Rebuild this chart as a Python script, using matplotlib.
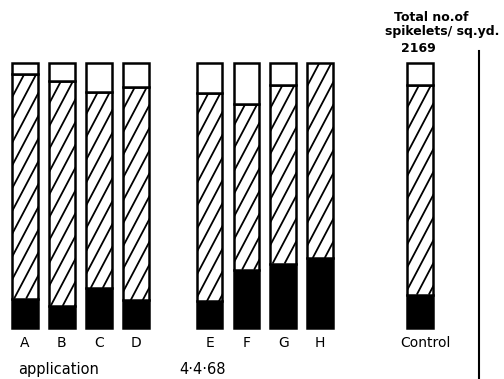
import numpy as np
import matplotlib
matplotlib.use("Agg")
import matplotlib.pyplot as plt
from matplotlib.patches import Rectangle
from matplotlib.collections import LineCollection

# bars as percentage of total spikelets (bottom black, middle hatched, top white)
labels = ["A", "B", "C", "D", "E", "F", "G", "H", "Control"]
black_pct = [11.1, 8.3, 15.1, 10.4, 10.1, 22.0, 24.3, 26.4, 12.6]
white_pct = [4.3, 6.8, 10.9, 9.1, 11.2, 15.3, 8.4, 0.0, 8.4]
hatch_pct = [100 - b - w for b, w in zip(black_pct, white_pct)]
control_total = "2169"

# slot positions: two groups of four, gap, then control
xpos = np.array([0, 1, 2, 3, 5, 6, 7, 8, 10.7])
width = 0.70

fig = plt.figure(figsize=(5.04, 3.79), dpi=100)
ax = fig.add_axes([0, 0, 1, 1])
ax.set_xlim(-0.678, 12.98)
ax.set_ylim(-19.25, 123.8)
ax.axis("off")

# pixel scale so the hatch can be made steeper than 45 deg
px_x = 504 / (12.98 + 0.678)
px_y = 379 / (123.8 + 19.25)
slope = 1.9 * px_x / px_y      # data units
step = 12 / px_x               # horizontal spacing of hatch lines

for x, b, h, w, lab in zip(xpos, black_pct, hatch_pct, white_pct, labels):
    left = x - width / 2
    ax.bar(x, b, width, bottom=0, color="black", edgecolor="black", lw=1.8)
    hat = Rectangle((left, b), width, h, facecolor="white", edgecolor="none")
    ax.add_patch(hat)
    segs = []
    for x0 in np.arange(left - h / slope - step, left + width + step, step):
        segs.append([(x0, b), (x0 + h / slope, b + h)])
    lc = LineCollection(segs, colors="black", linewidths=1.3)
    ax.add_collection(lc)
    lc.set_clip_path(hat)
    ax.bar(x, h, width, bottom=b, facecolor="none", edgecolor="black", lw=1.8)
    if w > 0:
        ax.bar(x, w, width, bottom=b + h, color="white", edgecolor="black", lw=1.8)
    ax.text(x + (0.15 if lab == "Control" else 0), -5.5, lab, ha="center", va="center",
            fontsize=10)

ax.text(11.0, 117.3, "Total no.of", ha="center", va="center", fontsize=9, fontweight="bold")
ax.text(11.3, 111.8, "spikelets/ sq.yd.", ha="center", va="center", fontsize=9, fontweight="bold")
ax.text(10.65, 105.5, control_total, ha="center", va="center", fontsize=9, fontweight="bold")

ax.text(0.9, -15.6, "application", ha="center", va="center", fontsize=10.5)
ax.text(4.8, -15.6, "4·4·68", ha="center", va="center", fontsize=10.5)

# vertical axis line at right
ax.plot([12.3, 12.3], [-19.25, 104.5], color="black", lw=1.5)

fig.savefig("out.png", dpi=100, facecolor="white")
